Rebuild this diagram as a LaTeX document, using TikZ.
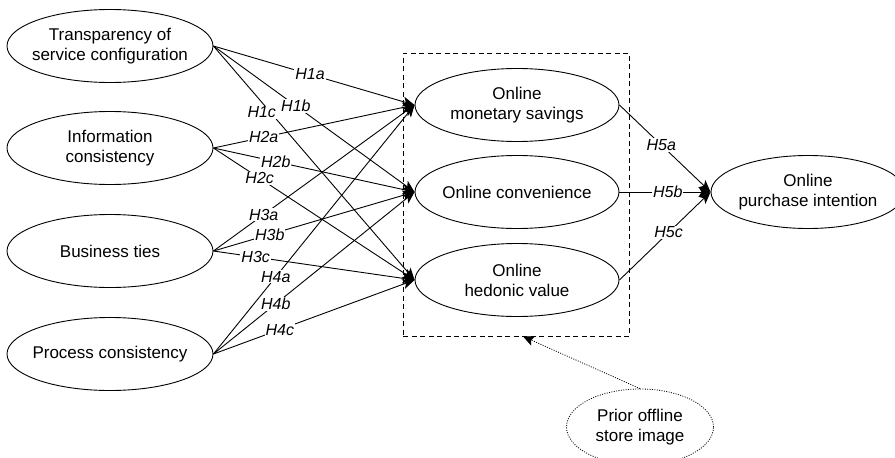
\documentclass[tikz,border=0pt]{standalone}
\usepackage{fontspec}
\setmainfont{Liberation Sans}
\usetikzlibrary{shapes.geometric,arrows.meta}
\begin{document}
\begin{tikzpicture}[x=1pt,y=-1pt,
  every node/.style={font=\fontsize{17}{20}\selectfont},
  every label/.style={align=center,font=\fontsize{17}{20}\selectfont},
  var/.style={ellipse,draw,line width=0.9pt,minimum width=206pt,minimum height=73pt,inner sep=0pt},
  hyp/.style={fill=white,inner sep=1pt,font=\fontsize{16}{18}\selectfont\itshape},
  link/.style={line width=0.9pt,-{Stealth[length=12pt,width=10pt,inset=3pt]}},
  dots/.style={line width=0.8pt,dash pattern=on 1pt off 1.4pt}
]
\clip (0,0) rectangle (895,458);
% left constructs
\node[var,label=center:{Transparency of\\service configuration}] (tsc) at (110,46) {};
\node[var,label=center:{Information\\consistency}] (ic) at (110,148) {};
\node[var,label=center:{Business ties}] (bt) at (110,251) {};
\node[var,label=center:{Process consistency}] (pc) at (110,354) {};
% middle constructs
\node[var,minimum width=204pt,label=center:{Online\\monetary savings}] (oms) at (517,105) {};
\node[var,minimum width=204pt,label=center:{Online convenience}] (oc) at (517,192) {};
\node[var,minimum width=204pt,label=center:{Online\\hedonic value}] (ohv) at (517,280) {};
% outcome
\node[var,minimum width=194pt,label=center:{Online\\purchase intention}] (opi) at (808,192) {};
% moderator
\node[ellipse,draw,dots,minimum width=147pt,minimum height=76pt,inner sep=0pt,label=center:{Prior offline\\store image}] (prior) at (640,427) {};
% dashed box
\node[draw,line width=0.8pt,dash pattern=on 5pt off 3.5pt,minimum width=226pt,minimum height=283pt,inner sep=0pt] (box) at (516,194.5) {};
% H1
\draw[link] (tsc.east) -- node[hyp,pos=0.48]{H1a} (oms.west);
\draw[link] (tsc.east) -- node[hyp,pos=0.41]{H1b} (oc.west);
\draw[link] (tsc.east) -- node[hyp,pos=0.25,xshift=-2pt,yshift=-8pt]{H1c} (ohv.west);
% H2
\draw[link] (ic.east) -- node[hyp,pos=0.25]{H2a} (oms.west);
\draw[link] (ic.east) -- node[hyp,pos=0.31]{H2b} (oc.west);
\draw[link] (ic.east) -- node[hyp,pos=0.23]{H2c} (ohv.west);
% H3
\draw[link] (bt.east) -- node[hyp,pos=0.25]{H3a} (oms.west);
\draw[link] (bt.east) -- node[hyp,pos=0.28]{H3b} (oc.west);
\draw[link] (bt.east) -- node[hyp,pos=0.21]{H3c} (ohv.west);
% H4
\draw[link] (pc.east) -- node[hyp,pos=0.31]{H4a} (oms.west);
\draw[link] (pc.east) -- node[hyp,pos=0.31]{H4b} (oc.west);
\draw[link] (pc.east) -- node[hyp,pos=0.33]{H4c} (ohv.west);
% H5
\draw[link] (oms.east) -- node[hyp,pos=0.46]{H5a} (opi.west);
\draw[link] (oc.east) -- node[hyp,pos=0.53]{H5b} (opi.west);
\draw[link] (ohv.east) -- node[hyp,pos=0.54]{H5c} (opi.west);
% moderation
\draw[dots,-{Stealth[length=11pt,width=10pt,inset=2pt]}] (prior.north) -- ([xshift=7pt]box.south);
\end{tikzpicture}
\end{document}
